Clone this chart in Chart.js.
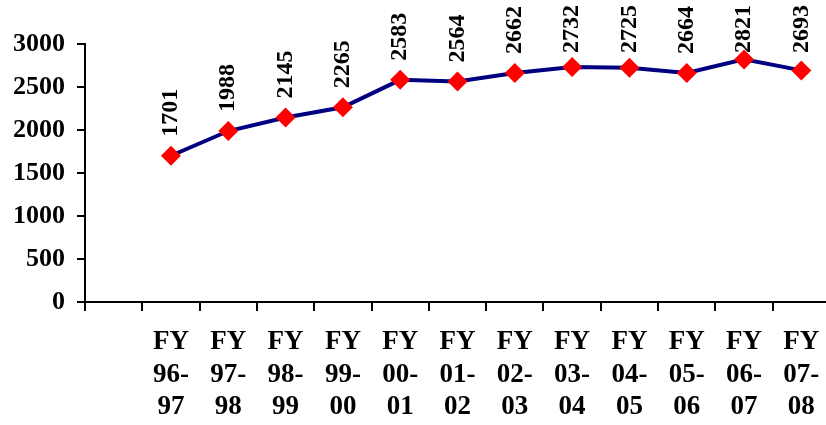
<!DOCTYPE html>
<html>
<head>
<meta charset="utf-8">
<script src="https://cdn.jsdelivr.net/npm/chart.js@4.4.1/dist/chart.umd.min.js"></script>
<style>
  html, body { margin: 0; padding: 0; background: #fff; overflow: hidden; }
  #wrap { width: 840px; height: 425px; }
</style>
</head>
<body>
<div id="wrap"><canvas id="c"></canvas></div>
<script>
// categories (first slot is left empty in the original)
const years = [
  [""],
  ["FY", "96-", "97"], ["FY", "97-", "98"], ["FY", "98-", "99"],
  ["FY", "99-", "00"], ["FY", "00-", "01"], ["FY", "01-", "02"],
  ["FY", "02-", "03"], ["FY", "03-", "04"], ["FY", "04-", "05"],
  ["FY", "05-", "06"], ["FY", "06-", "07"], ["FY", "07-", "08"]
];
const values = [null, 1701, 1988, 2145, 2265, 2583, 2564, 2662, 2732, 2725, 2664, 2821, 2693];
const yTicks = [0, 500, 1000, 1500, 2000, 2500, 3000];

const FONT = "'Liberation Serif', 'Times New Roman', serif";

// value labels, rotated, above each marker (kept inside the canvas top)
const valueLabels = {
  id: "valueLabels",
  afterDatasetsDraw(chart) {
    const ctx = chart.ctx;
    const meta = chart.getDatasetMeta(0);
    ctx.save();
    ctx.font = "bold 24px " + FONT;
    ctx.fillStyle = "#000";
    ctx.textAlign = "left";
    ctx.textBaseline = "middle";
    meta.data.forEach((pt, i) => {
      if (values[i] == null) return;
      const txt = String(values[i]);
      const w = ctx.measureText(txt).width;
      const start = Math.max(pt.y - 19, 5 + w);
      ctx.save();
      ctx.translate(pt.x, start);
      ctx.rotate(-Math.PI / 2);
      ctx.fillText(txt, 0, 0);
      ctx.restore();
    });
    ctx.restore();
  }
};

new Chart(document.getElementById("c"), {
  type: "line",
  data: {
    labels: years,
    datasets: [{
      data: values,
      borderColor: "#000080",
      borderWidth: 4,
      pointStyle: "rectRot",
      pointRadius: 10,
      pointHoverRadius: 10,
      pointBackgroundColor: "#ff0000",
      pointBorderColor: "#ff0000",
      pointBorderWidth: 0,
      tension: 0,
      spanGaps: true
    }]
  },
  options: {
    responsive: true,
    maintainAspectRatio: false,
    animation: false,
    layout: { padding: { top: 44, right: 8, left: 0, bottom: 0 } },
    plugins: {
      legend: { display: false },
      tooltip: { enabled: false }
    },
    scales: {
      x: {
        offset: true,
        afterFit: s => { s.height = 123; },
        grid: {
          offset: true,
          drawOnChartArea: false,
          drawTicks: true,
          tickLength: 9,
          color: "#000",
          lineWidth: 2
        },
        border: { display: true, color: "#000", width: 2 },
        ticks: {
          autoSkip: false,
          maxRotation: 0,
          minRotation: 0,
          padding: 15,
          color: "#000",
          font: { family: FONT, size: 27, weight: "bold", lineHeight: 1.2 }
        }
      },
      y: {
        min: 0,
        max: 3000,
        afterFit: s => { s.width = 85; },
        afterBuildTicks: s => { s.ticks = yTicks.map(v => ({ value: v })); },
        grid: {
          drawOnChartArea: false,
          drawTicks: true,
          tickLength: 8,
          color: "#000",
          lineWidth: 2
        },
        border: { display: true, color: "#000", width: 2 },
        ticks: {
          padding: 12,
          color: "#000",
          callback: v => String(v),
          font: { family: FONT, size: 26, weight: "bold" }
        }
      }
    }
  },
  plugins: [valueLabels]
});
</script>
</body>
</html>
